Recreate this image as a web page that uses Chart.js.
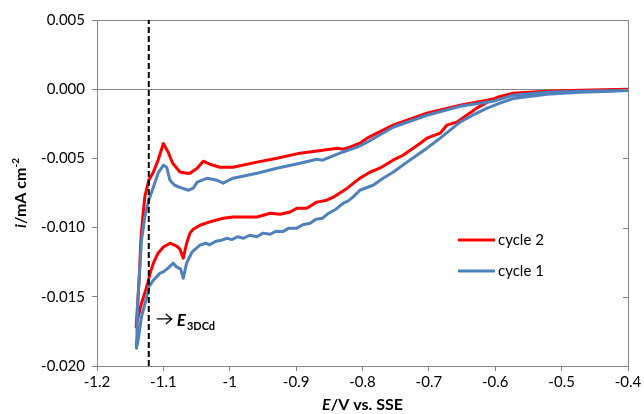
<!DOCTYPE html>
<html><head><meta charset="utf-8">
<script src="https://cdn.jsdelivr.net/npm/chart.js@4/dist/chart.umd.min.js"></script>
<style>html,body{margin:0;padding:0;background:#fff}#wrap{width:644px;height:414px}</style>
</head><body><div id="wrap"><canvas id="c" width="644" height="414"></canvas></div>
<script>
// ---- data (E / V vs. SSE, i / mA cm-2) ----
const seriesNames = ['cycle 2', 'cycle 1'];
const cycle2E = [-0.400,-0.472,-0.522,-0.573,-0.612,-0.653,-0.703,-0.754,-0.793,-0.804,-0.819,-0.829,-0.838,-0.860,-0.894,-0.929,-0.959,-0.995,-1.015,-1.030,-1.040,-1.049,-1.060,-1.065,-1.075,-1.086,-1.093,-1.100,-1.108,-1.115,-1.122,-1.128,-1.131,-1.134,-1.136,-1.139,-1.141,
  -1.138,-1.133,-1.125,-1.120,-1.115,-1.108,-1.100,-1.090,-1.080,-1.075,-1.070,-1.065,-1.060,-1.055,-1.045,-1.030,-1.010,-0.995,-0.959,-0.939,-0.924,-0.909,-0.899,-0.884,-0.869,-0.854,-0.844,-0.823,-0.804,-0.789,-0.774,-0.754,-0.739,-0.728,-0.713,-0.703,-0.683,-0.673,-0.658,-0.643,-0.628,-0.612,-0.597,-0.573,-0.522,-0.472,-0.400];
const cycle2I = [0.00000,-0.00007,-0.00014,-0.00036,-0.00079,-0.00116,-0.00173,-0.00260,-0.00354,-0.00390,-0.00419,-0.00434,-0.00426,-0.00441,-0.00462,-0.00499,-0.00527,-0.00564,-0.00564,-0.00542,-0.00520,-0.00571,-0.00607,-0.00607,-0.00598,-0.00535,-0.00453,-0.00392,-0.00513,-0.00598,-0.00658,-0.00778,-0.00923,-0.01091,-0.01329,-0.01573,-0.01717,
  -0.01645,-0.01546,-0.01428,-0.01329,-0.01257,-0.01185,-0.01140,-0.01113,-0.01134,-0.01156,-0.01221,-0.01113,-0.01040,-0.01012,-0.00983,-0.00959,-0.00932,-0.00923,-0.00923,-0.00896,-0.00903,-0.00887,-0.00860,-0.00860,-0.00816,-0.00802,-0.00780,-0.00715,-0.00643,-0.00600,-0.00571,-0.00513,-0.00477,-0.00441,-0.00390,-0.00354,-0.00318,-0.00260,-0.00238,-0.00188,-0.00137,-0.00094,-0.00058,-0.00029,-0.00014,-0.00007,0.00000];
const cycle1E = [-0.400,-0.472,-0.522,-0.573,-0.603,-0.653,-0.703,-0.754,-0.793,-0.808,-0.834,-0.860,-0.869,-0.894,-0.929,-0.959,-0.995,-1.010,-1.019,-1.034,-1.049,-1.055,-1.062,-1.072,-1.083,-1.090,-1.095,-1.100,-1.108,-1.115,-1.122,-1.128,-1.133,-1.136,-1.139,-1.140,-1.1405,
  -1.138,-1.133,-1.125,-1.122,-1.115,-1.105,-1.100,-1.093,-1.085,-1.080,-1.074,-1.070,-1.065,-1.057,-1.045,-1.036,-1.030,-1.021,-1.012,-1.004,-0.997,-0.988,-0.979,-0.970,-0.959,-0.950,-0.939,-0.930,-0.920,-0.911,-0.899,-0.890,-0.879,-0.870,-0.860,-0.851,-0.840,-0.829,-0.822,-0.814,-0.804,-0.784,-0.769,-0.754,-0.733,-0.718,-0.703,-0.683,-0.668,-0.653,-0.634,-0.612,-0.593,-0.573,-0.522,-0.472,-0.402];
const cycle1I = [-0.00010,-0.00014,-0.00022,-0.00043,-0.00087,-0.00123,-0.00188,-0.00275,-0.00383,-0.00419,-0.00462,-0.00513,-0.00506,-0.00535,-0.00571,-0.00607,-0.00643,-0.00679,-0.00658,-0.00643,-0.00672,-0.00715,-0.00730,-0.00715,-0.00694,-0.00658,-0.00564,-0.00549,-0.00607,-0.00706,-0.00802,-0.00923,-0.01091,-0.01329,-0.01573,-0.01814,-0.01871,
  -0.01814,-0.01645,-0.01501,-0.01428,-0.01380,-0.01329,-0.01320,-0.01293,-0.01257,-0.01284,-0.01300,-0.01366,-0.01257,-0.01178,-0.01127,-0.01113,-0.01124,-0.01098,-0.01091,-0.01077,-0.01087,-0.01066,-0.01077,-0.01055,-0.01066,-0.01040,-0.01048,-0.01026,-0.01029,-0.01004,-0.01004,-0.00979,-0.00968,-0.00939,-0.00932,-0.00896,-0.00867,-0.00824,-0.00809,-0.00778,-0.00730,-0.00694,-0.00643,-0.00600,-0.00527,-0.00477,-0.00426,-0.00354,-0.00296,-0.00238,-0.00188,-0.00137,-0.00101,-0.00067,-0.00036,-0.00022,-0.00012];
const markerE = -1.122;
const markerLabel = 'E';
const markerSub = '3DCd';
const xMin = -1.2, xMax = -0.4, xStep = 0.1;
const yMin = -0.020, yMax = 0.005, yStep = 0.005;

const RED = '#FF0000', BLUE = '#4F81BD', AXIS = '#868686';
const FONT = 'Lato, "Open Sans", sans-serif';
const toPts = (E, I) => E.map((e, k) => ({x: e, y: I[k]}));

const deco = {
  id: 'deco',
  afterDraw(chart) {
    const {ctx, chartArea: a, scales: {x, y}} = chart;
    ctx.save();
    // right border inward ticks
    ctx.strokeStyle = AXIS; ctx.lineWidth = 1;
    for (let v = yMin; v <= yMax + 1e-9; v += yStep) {
      const py = Math.round(y.getPixelForValue(v)) + 0.5;
      ctx.beginPath(); ctx.moveTo(a.right, py); ctx.lineTo(a.right - 5, py); ctx.stroke();
    }
    ctx.fillStyle = '#000';
    ctx.textBaseline = 'alphabetic';
    // x title
    const parts = [['bold italic 16px ' + FONT, 'E'], ['bold 16px ' + FONT, '/V vs. SSE']];
    let w = 0; parts.forEach(p => { ctx.font = p[0]; w += ctx.measureText(p[1]).width; });
    let cx = (a.left + a.right) / 2 - w / 2;
    parts.forEach(p => { ctx.font = p[0]; ctx.textAlign = 'left'; ctx.fillText(p[1], cx, 410); cx += ctx.measureText(p[1]).width; });
    // y title
    ctx.save();
    ctx.translate(26, 193); ctx.rotate(-Math.PI / 2);
    const yp = [['bold italic 16px ' + FONT, 'i', 0], ['bold 16px ' + FONT, '/mA cm', 0], ['bold 10px ' + FONT, '-2', -7]];
    w = 0; yp.forEach(p => { ctx.font = p[0]; w += ctx.measureText(p[1]).width; });
    cx = -w / 2;
    yp.forEach(p => { ctx.font = p[0]; ctx.fillText(p[1], cx, p[2]); cx += ctx.measureText(p[1]).width; });
    ctx.restore();
    // annotation arrow + label
    const ax = x.getPixelForValue(markerE) + 8, ay = y.getPixelForValue(-0.0166);
    ctx.strokeStyle = '#000'; ctx.lineWidth = 1.3;
    ctx.beginPath(); ctx.moveTo(ax, ay); ctx.lineTo(ax + 15, ay);
    ctx.moveTo(ax + 9, ay - 5); ctx.lineTo(ax + 15, ay); ctx.lineTo(ax + 9, ay + 5); ctx.stroke();
    ctx.font = 'bold italic 17px ' + FONT; ctx.textAlign = 'left';
    ctx.fillText(markerLabel, ax + 20, ay + 7);
    const ew = ctx.measureText(markerLabel).width;
    ctx.font = 'bold 11px ' + FONT;
    ctx.fillText(markerSub, ax + 21 + ew, ay + 11);
    // legend
    const leg = [[seriesNames[0], RED, 240], [seriesNames[1], BLUE, 271]];
    leg.forEach(([t, c, ly]) => {
      ctx.strokeStyle = c; ctx.lineWidth = 3;
      ctx.beginPath(); ctx.moveTo(458, ly); ctx.lineTo(495, ly); ctx.stroke();
      ctx.font = '15px ' + FONT; ctx.fillStyle = '#000'; ctx.textBaseline = 'middle';
      ctx.fillText(t, 498, ly);
    });
    ctx.restore();
  }
};

new Chart(document.getElementById('c'), {
  type: 'scatter',
  data: {
    datasets: [
      {label: seriesNames[1], data: toPts(cycle1E, cycle1I), showLine: true, borderColor: BLUE, borderWidth: 3, pointRadius: 0, tension: 0, borderJoinStyle: 'round', order: 1},
      {label: seriesNames[0], data: toPts(cycle2E, cycle2I), showLine: true, borderColor: RED, borderWidth: 3, pointRadius: 0, tension: 0, borderJoinStyle: 'round', order: 2},
      {label: 'marker', data: [{x: markerE, y: yMin}, {x: markerE, y: yMax}], showLine: true, borderColor: '#000', borderWidth: 2, borderDash: [6, 3], pointRadius: 0, order: 0}
    ]
  },
  options: {
    responsive: false, animation: false, devicePixelRatio: 1,
    layout: {padding: {top: 20, right: 16, left: 0, bottom: 0}},
    plugins: {legend: {display: false}, tooltip: {enabled: false}},
    scales: {
      x: {
        type: 'linear', min: xMin, max: xMax,
        afterFit: s => { s.height = 48; },
        ticks: {stepSize: xStep, color: '#000', font: {family: FONT, size: 15}, padding: 2,
          callback: v => String(Math.round(v * 10) / 10)},
        grid: {drawOnChartArea: true, tickLength: 5, tickColor: AXIS,
          color: c => (c.tick && Math.abs(c.tick.value - xMax) < 1e-9) ? AXIS : 'rgba(0,0,0,0)'},
        border: {color: AXIS, width: 1}
      },
      y: {
        type: 'linear', min: yMin, max: yMax,
        afterFit: s => { s.width = 97; },
        ticks: {stepSize: yStep, color: '#000', font: {family: FONT, size: 15}, padding: 7,
          callback: v => (Math.abs(v) < 1e-9 ? 0 : v).toFixed(3)},
        grid: {drawOnChartArea: true, tickLength: 5, tickColor: AXIS,
          color: c => (c.tick && (Math.abs(c.tick.value) < 1e-9 || Math.abs(c.tick.value - yMax) < 1e-9)) ? AXIS : 'rgba(0,0,0,0)'},
        border: {color: AXIS, width: 1}
      }
    }
  },
  plugins: [deco]
});
</script></body></html>
